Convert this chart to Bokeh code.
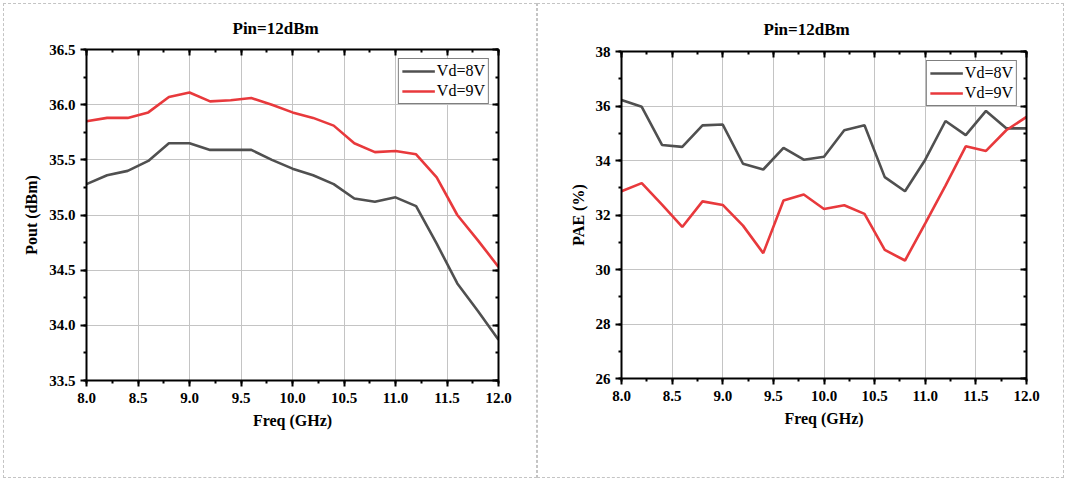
from bokeh.plotting import figure
from bokeh.models import (Range1d, LinearAxis, SingleIntervalTicker, NumeralTickFormatter,
                          CustomJSTickFormatter, Legend, LegendItem)
from bokeh.layouts import row, column
from bokeh.embed import file_html
from bokeh.resources import INLINE

# ---------------- data ----------------
freq = [8.0, 8.2, 8.4, 8.6, 8.8, 9.0, 9.2, 9.4, 9.6, 9.8, 10.0,
        10.2, 10.4, 10.6, 10.8, 11.0, 11.2, 11.4, 11.6, 11.8, 12.0]

pout_8v = [35.28, 35.36, 35.40, 35.49, 35.65, 35.65, 35.59, 35.59, 35.59, 35.50, 35.42,
           35.36, 35.28, 35.15, 35.12, 35.16, 35.08, 34.74, 34.38, 34.13, 33.87]
pout_9v = [35.85, 35.88, 35.88, 35.93, 36.07, 36.11, 36.03, 36.04, 36.06, 36.00, 35.93,
           35.88, 35.81, 35.65, 35.57, 35.58, 35.55, 35.34, 35.00, 34.77, 34.53]

pae_8v = [36.22, 35.97, 34.57, 34.50, 35.29, 35.32, 33.88, 33.67, 34.46, 34.03, 34.14,
          35.11, 35.29, 33.39, 32.87, 34.03, 35.45, 34.93, 35.82, 35.18, 35.18]
pae_9v = [32.87, 33.17, 32.38, 31.56, 32.50, 32.37, 31.61, 30.60, 32.53, 32.75, 32.22,
          32.36, 32.04, 30.72, 30.33, 31.69, 33.08, 34.52, 34.35, 35.11, 35.60]

series_labels = ["Vd=8V", "Vd=9V"]
title_text = "Pin=12dBm"
x_label = "Freq (GHz)"

FONT = "Liberation Serif"
GREY = "#505050"
RED = "#e8393c"
PANEL_STYLE = {"border": "1px dashed #c4c4c4"}


def make_panel(y8, y9, y_start, y_end, y_interval, y_fmt, y_label,
               width, height, borders, title_offset, title_standoff):
    bl, br, bt, bb = borders
    p = figure(width=width, height=height, output_backend="svg", toolbar_location=None,
               x_range=Range1d(8.0, 12.0), y_range=Range1d(y_start, y_end),
               min_border_left=bl, min_border_right=br, min_border_top=bt,
               min_border_bottom=bb, x_axis_location=None, y_axis_location=None,
               title=title_text)
    p.outline_line_color = None
    p.background_fill_color = "white"
    p.border_fill_color = "white"

    p.title.align = "left"
    p.title.text_font = FONT
    p.title.text_font_style = "bold"
    p.title.text_font_size = "17px"
    p.title.text_color = "black"
    p.title.offset = title_offset
    p.title.standoff = title_standoff

    xt = SingleIntervalTicker(interval=0.5, num_minor_ticks=2)
    yt = SingleIntervalTicker(interval=y_interval, num_minor_ticks=2)

    def style_axis(ax, mirror):
        ax.axis_line_width = 2
        ax.axis_line_color = "black"
        ax.major_tick_line_width = 2
        ax.minor_tick_line_width = 2
        ax.major_tick_line_color = "black"
        ax.minor_tick_line_color = "black"
        if mirror:
            ax.major_tick_in = 6
            ax.major_tick_out = 0
            ax.minor_tick_in = 3
            ax.minor_tick_out = 0
            ax.formatter = CustomJSTickFormatter(code="return ''")
            ax.major_label_standoff = 0
        else:
            ax.major_tick_in = 0
            ax.major_tick_out = 6
            ax.minor_tick_in = 0
            ax.minor_tick_out = 3
            ax.major_label_text_font = FONT
            ax.major_label_text_font_style = "bold"
            ax.major_label_text_font_size = "15px"
            ax.major_label_text_color = "black"
            ax.axis_label_text_font = FONT
            ax.axis_label_text_font_style = "bold"
            ax.axis_label_text_font_size = "16px"
            ax.axis_label_text_color = "black"

    xb = LinearAxis(ticker=xt, formatter=NumeralTickFormatter(format="0.0"),
                    axis_label=x_label)
    style_axis(xb, False)
    xb.major_label_standoff = 6
    xb.axis_label_standoff = 6
    p.add_layout(xb, "below")

    yl = LinearAxis(ticker=yt, formatter=NumeralTickFormatter(format=y_fmt),
                    axis_label=y_label)
    style_axis(yl, False)
    yl.major_label_standoff = 5
    yl.axis_label_standoff = 6
    p.add_layout(yl, "left")

    xa = LinearAxis(ticker=xt)
    style_axis(xa, True)
    p.add_layout(xa, "above")
    yr = LinearAxis(ticker=yt)
    style_axis(yr, True)
    p.add_layout(yr, "right")

    p.xgrid.ticker = xt
    p.ygrid.ticker = yt
    p.xgrid.grid_line_color = "#c4c4c4"
    p.ygrid.grid_line_color = "#c4c4c4"
    p.xgrid.grid_line_width = 1
    p.ygrid.grid_line_width = 1

    r8 = p.line(freq, y8, line_color=GREY, line_width=2.6)
    r9 = p.line(freq, y9, line_color=RED, line_width=2.6)

    leg = Legend(items=[LegendItem(label=series_labels[0], renderers=[r8]),
                        LegendItem(label=series_labels[1], renderers=[r9])],
                 location="top_right")
    leg.margin = 9
    leg.padding = 3
    leg.spacing = 2
    leg.glyph_width = 33
    leg.glyph_height = 16
    leg.label_height = 16
    leg.label_standoff = 2
    leg.label_text_font = FONT
    leg.label_text_font_size = "16px"
    leg.label_text_color = "black"
    leg.border_line_color = "black"
    leg.border_line_width = 1
    leg.background_fill_color = "white"
    leg.background_fill_alpha = 1
    p.add_layout(leg)
    return p


p1 = make_panel(pout_8v, pout_9v, 33.5, 36.5, 0.5, "0.0", "Pout (dBm)",
                532, 473, (82, 38, 44, 97), 146, 24)
p2 = make_panel(pae_8v, pae_9v, 26, 38, 2, "0", "PAE (%)",
                525, 473, (83, 37, 47, 99), 142, 26)

layout = row(column(p1, styles=PANEL_STYLE), column(p2, styles=PANEL_STYLE),
             margin=(3, 0, 0, 3))
open("out.html", "w").write(file_html(layout, INLINE))
